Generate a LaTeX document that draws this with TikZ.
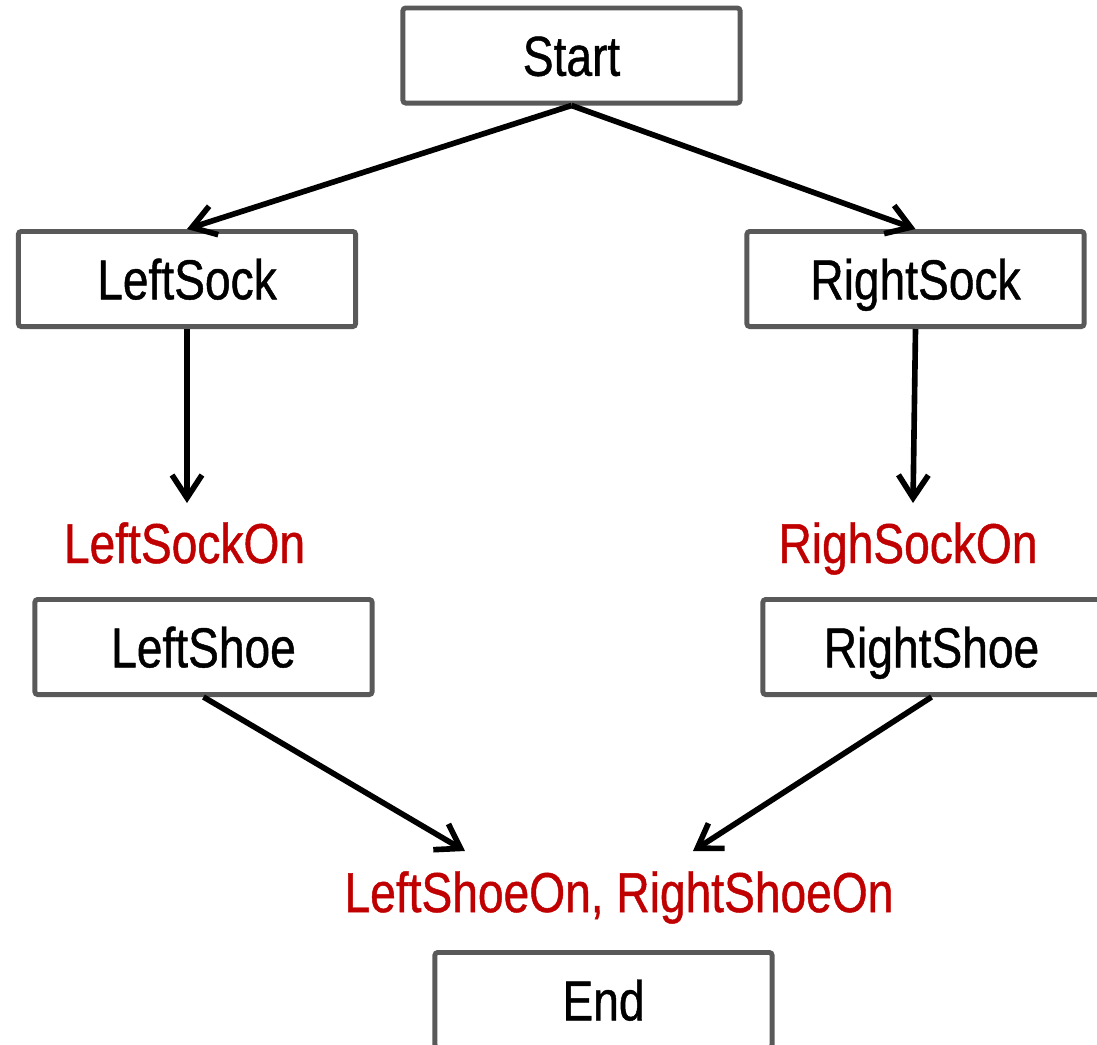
\documentclass[tikz,border=0pt]{standalone}
\usepackage{fontspec}
\setmainfont{Liberation Sans}[FakeStretch=0.82,FakeBold=0.8]
\usetikzlibrary{arrows.meta}
\definecolor{boxgray}{HTML}{595959}
\definecolor{labred}{HTML}{C00000}
\begin{document}
\begin{tikzpicture}[x=0.01cm,y=-0.01cm,
  box/.style={draw=boxgray,line width=1.4pt,rounded corners=0.8pt,minimum width=3.37cm,minimum height=0.95cm,inner sep=0pt,font=\fontsize{16}{19}\selectfont,text height=0.405cm,text depth=0pt},
  lab/.style={text=labred,font=\fontsize{16}{19}\selectfont,anchor=base,inner sep=0pt},
  arr/.style={-{Straight Barb[length=6.5pt,width=8.5pt,line width=1.6pt]},line width=1.6pt}]
\useasboundingbox (0,0) rectangle (1097,1044);
\node[box] (start) at (571.5,55.5) {Start};
\node[box] (lsock) at (187,279) {LeftSock};
\node[box] (rsock) at (915.5,279) {RightSock};
\node[box] (lshoe) at (203.5,647) {LeftShoe};
\node[box] (rshoe) at (931.5,647) {RightShoe};
\node[box] (end) at (603.5,1000) {End};
\node[lab] (lso) at (184.5,563) {LeftSockOn};
\node[lab] (rso) at (908,563) {RighSockOn};
\node[lab] (shoes) at (619,912) {LeftShoeOn, RightShoeOn};
\coordinate (lsoTip) at (187,503);
\coordinate (rsoTip) at (913,503);
\coordinate (lshTip) at (465,851);
\coordinate (rshTip) at (693,851);
\draw[arr] (start.south) -- (lsock.north);
\draw[arr] (start.south) -- (rsock.north);
\draw[arr] (lsock.south) -- (lsoTip);
\draw[arr] (rsock.south) -- (rsoTip);
\draw[arr] (lshoe.south) -- (lshTip);
\draw[arr] (rshoe.south) -- (rshTip);
\end{tikzpicture}
\end{document}
